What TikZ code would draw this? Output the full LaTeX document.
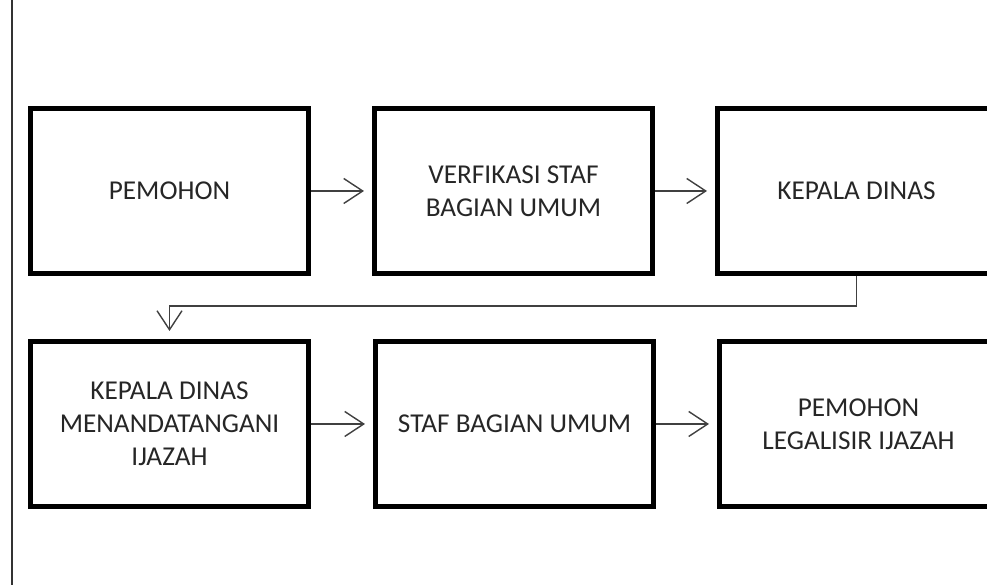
\documentclass[tikz,border=0pt]{standalone}
\usepackage{fontspec}
\setmainfont{Carlito}
\usetikzlibrary{arrows.meta}

\begin{document}
\begin{tikzpicture}[every node/.style={rectangle,draw,line width=2.85pt,minimum width=5.56cm,minimum height=3.3cm,align=center,font=\fontsize{15.5}{18.8}\selectfont,text=black!85},
    flow/.style={draw=black!75,line width=0.8pt,-{Straight Barb[length=0.38cm,width=0.5cm]},shorten >=0.16cm}]
    \useasboundingbox (0,0) rectangle (19.74,11.7);
    \clip (0,0) rectangle (19.74,11.7);
    \draw[line width=0.8pt,black!80] (0.24,0) -- (0.24,11.7);

    % Row 1
    \node (p1) at (3.39,7.88) {PEMOHON};
    \node (vs) at (10.27,7.88) {VERFIKASI STAF\\BAGIAN UMUM};
    \node (kd) at (17.13,7.88) {KEPALA DINAS};

    % Row 2
    \node (kdt) at (3.39,3.22) {KEPALA DINAS\\MENANDATANGANI\\IJAZAH};
    \node (sb) at (10.29,3.22) {STAF BAGIAN UMUM};
    \node (pl) at (17.17,3.22) {PEMOHON\\LEGALISIR IJAZAH};

    % Arrows
    \draw[flow] (p1) -- (vs);
    \draw[flow] (vs) -- (kd);
    \draw[flow] (kd.south) -- ++(0,-0.6) -| (kdt.north);
    \draw[flow] (kdt) -- (sb);
    \draw[flow] (sb) -- (pl);
\end{tikzpicture}
\end{document}
